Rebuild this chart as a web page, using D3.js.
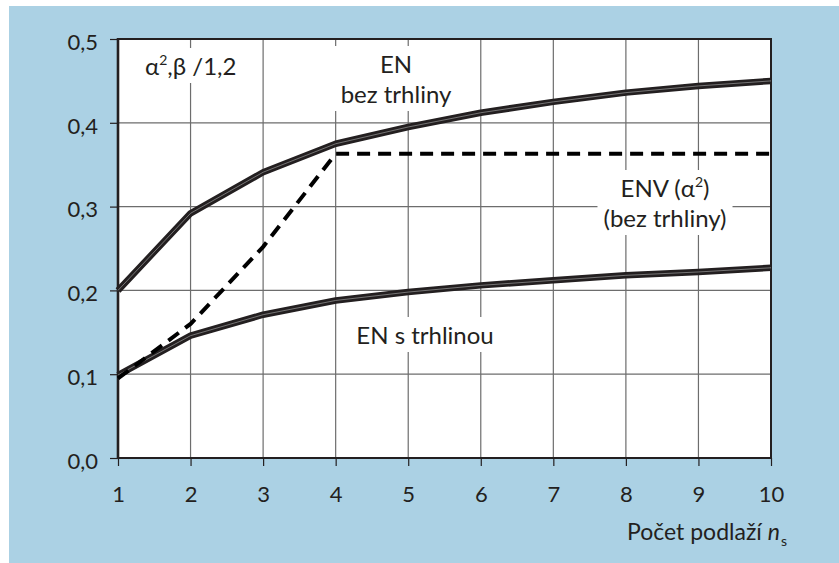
<!DOCTYPE html>
<html>
<head>
<meta charset="utf-8">
<script src="https://cdn.jsdelivr.net/npm/d3@7"></script>
<style>
  html, body { margin: 0; padding: 0; background: #fff; }
  svg { display: block; font-family: Lato, "Open Sans", sans-serif; }
</style>
</head>
<body>
<div id="chart"></div>
<script>
// data
const storeys = [1, 2, 3, 4, 5, 6, 7, 8, 9, 10];
const enUncracked = [0.200, 0.292, 0.341, 0.375, 0.395, 0.412, 0.425, 0.436, 0.444, 0.450];
const enCracked = [0.099, 0.146, 0.171, 0.188, 0.198, 0.206, 0.212, 0.218, 0.222, 0.227];
const envUncracked = [0.095, 0.160, 0.252, 0.363, 0.363, 0.363, 0.363, 0.363, 0.363, 0.363];
const yTicks = [0, 0.1, 0.2, 0.3, 0.4, 0.5];
const xTicks = [1, 2, 3, 4, 5, 6, 7, 8, 9, 10];

const W = 839, H = 563;
const ink = '#231f20';
const plot = { left: 118, right: 771, top: 39, bottom: 458 };

const svg = d3.select('#chart').append('svg')
    .attr('width', W)
    .attr('height', H);

// light blue backdrop
svg.append('rect')
    .attr('x', 9).attr('y', 6)
    .attr('width', W - 9).attr('height', H - 6)
    .attr('fill', '#abd1e4');

const x = d3.scaleLinear().domain([1, 10]).range([plot.left, plot.right]);
const y = d3.scaleLinear().domain([0, 0.5]).range([plot.bottom, plot.top]);

svg.append('rect')
    .attr('x', plot.left).attr('y', plot.top)
    .attr('width', plot.right - plot.left).attr('height', plot.bottom - plot.top)
    .attr('fill', '#fff');

// grid
const grid = svg.append('g');
grid.selectAll('.vg')
    .data(xTicks.slice(1, -1))
    .enter().append('line')
    .attr('x1', d => x(d)).attr('x2', d => x(d))
    .attr('y1', plot.top).attr('y2', plot.bottom)
    .attr('stroke', '#6d6d6d').attr('stroke-width', 1.2);
grid.selectAll('.hg')
    .data(yTicks.slice(1, -1))
    .enter().append('line')
    .attr('x1', plot.left).attr('x2', plot.right)
    .attr('y1', d => y(d)).attr('y2', d => y(d))
    .attr('stroke', '#6d6d6d').attr('stroke-width', 1.2);

// axes
const yAxis = d3.axisLeft(y)
    .tickValues(yTicks)
    .tickSize(8)
    .tickPadding(12)
    .tickFormat(d => d3.format('.1f')(d).replace('.', ','));
const xAxis = d3.axisBottom(x)
    .tickValues(xTicks)
    .tickSize(8)
    .tickPadding(20)
    .tickFormat(d3.format('d'));

const gy = svg.append('g')
    .attr('transform', `translate(${plot.left},0)`)
    .call(yAxis);
const gx = svg.append('g')
    .attr('transform', `translate(0,${plot.bottom})`)
    .call(xAxis);

[gx, gy].forEach(g => {
    g.select('.domain').remove();
    g.selectAll('line').attr('stroke', ink).attr('stroke-width', 1.2);
    g.selectAll('text')
        .attr('fill', ink)
        .attr('font-size', 22)
        .attr('font-family', 'Lato, "Open Sans", sans-serif');
});
gy.selectAll('text').attr('dy', '0.47em');

// frame
svg.append('line')
    .attr('x1', plot.left).attr('x2', plot.left)
    .attr('y1', plot.top - 1).attr('y2', plot.bottom + 1)
    .attr('stroke', ink).attr('stroke-width', 2.6);
svg.append('line')
    .attr('x1', plot.left).attr('x2', plot.right + 1)
    .attr('y1', plot.top).attr('y2', plot.top)
    .attr('stroke', ink).attr('stroke-width', 1.8);
svg.append('line')
    .attr('x1', plot.right).attr('x2', plot.right)
    .attr('y1', plot.top).attr('y2', plot.bottom + 1)
    .attr('stroke', ink).attr('stroke-width', 2);
svg.append('line')
    .attr('x1', plot.left).attr('x2', plot.right + 1)
    .attr('y1', plot.bottom).attr('y2', plot.bottom)
    .attr('stroke', ink).attr('stroke-width', 2);

// labels inside the plot, each on a white patch hiding the grid
const labels = svg.append('g').attr('fill', ink).attr('font-size', 24);

function addLabel(lines, cx, baseline, anchor) {
    const g = labels.append('g');
    const bg = g.append('rect').attr('fill', '#fff');
    const t = g.append('text').attr('text-anchor', anchor || 'middle');
    lines.forEach((ln, i) => {
        const row = t.append('tspan').attr('x', cx).attr('y', baseline + i * 30);
        ln.forEach(part => {
            const s = row.append('tspan').text(part.text);
            if (part.sup) s.attr('font-size', 14).attr('dy', -10);
            if (part.after) s.attr('dy', 10);
        });
    });
    const b = t.node().getBBox();
    bg.attr('x', b.x - 6).attr('y', b.y - 3)
        .attr('width', b.width + 12).attr('height', b.height + 6);
}

addLabel([[{ text: 'α' }, { text: '2', sup: true }, { text: ',β /1,2', after: true }]], 145, 75, 'start');
addLabel([[{ text: 'EN' }], [{ text: 'bez trhliny' }]], 396, 73);
addLabel([[{ text: 'ENV (α' }, { text: '2', sup: true }, { text: ')', after: true }], [{ text: '(bez trhliny)' }]], 665, 197);
addLabel([[{ text: 'EN s trhlinou' }]], 425, 344);

// series: dark double-rule lines
const line = d3.line()
    .x((d, i) => x(storeys[i]))
    .y(d => y(d));

[enUncracked, enCracked].forEach(vals => {
    svg.append('path')
        .attr('d', line(vals))
        .attr('fill', 'none')
        .attr('stroke', ink)
        .attr('stroke-width', 6.5)
        .attr('stroke-linejoin', 'round');
    svg.append('path')
        .attr('d', line(vals))
        .attr('fill', 'none')
        .attr('stroke', '#8a8a8a')
        .attr('stroke-width', 0.8)
        .attr('stroke-linejoin', 'round');
});

svg.append('path')
    .attr('d', line(envUncracked))
    .attr('fill', 'none')
    .attr('stroke', '#000')
    .attr('stroke-width', 4)
    .attr('stroke-dasharray', '13,8');

// x axis title
const title = svg.append('text')
    .attr('x', 627).attr('y', 540)
    .attr('fill', ink)
    .attr('font-size', 23);
title.append('tspan').text('Počet podlaží ');
title.append('tspan').attr('font-style', 'italic').text('n');
title.append('tspan').attr('font-size', 14).attr('dy', 6).attr('dx', 1).text('s');
</script>
</body>
</html>
